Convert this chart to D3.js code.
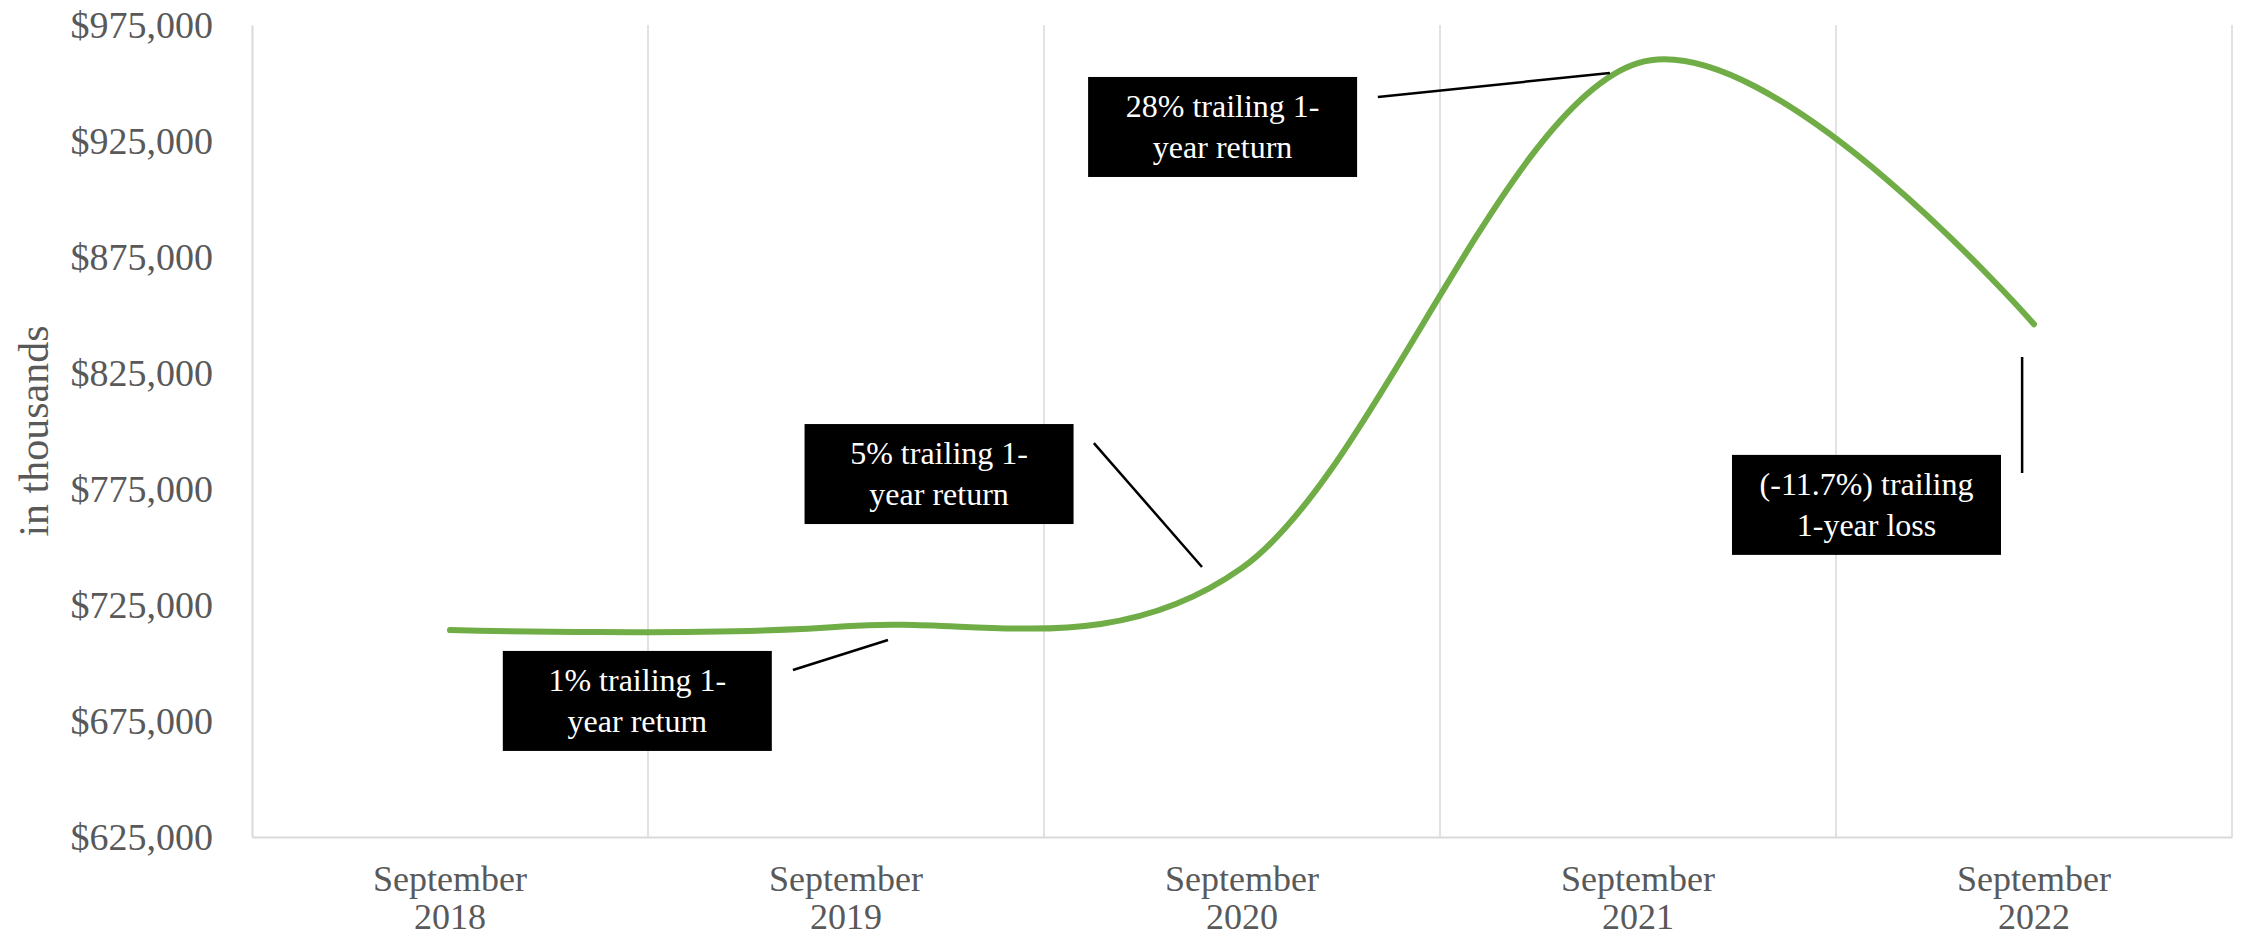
<!DOCTYPE html>
<html>
<head>
  <meta charset="utf-8" />
  <title>Trailing 1-year value</title>
  <script type="text/javascript" src="https://cdn.jsdelivr.net/npm/d3@7"></script>
  <style>
    body{
      margin: 0;
      background: white;
    }
    svg{ display: block; }
  </style>
</head>
<body>
  <script type="text/javascript">
    // - - - - - DATA - - - - - //
    //category labels (two lines each)
    var periods = [
      ["September", "2018"],
      ["September", "2019"],
      ["September", "2020"],
      ["September", "2021"],
      ["September", "2022"]
    ];
    //portfolio value, in thousands of dollars
    var values = [714200, 715800, 741000, 958600, 846000];
    //value axis ticks
    var yTicks = d3.range(625000, 975001, 50000);

    //annotation callouts: text, box anchor (category pos, value), leader ends
    var noteText = [
      ["1% trailing 1-", "year return"],
      ["5% trailing 1-", "year return"],
      ["28% trailing 1-", "year return"],
      ["(-11.7%) trailing", "1-year loss"]
    ];
    var notePos = [[0.473, 705200], [1.235, 803000], [1.951, 952600], [3.577, 789700]];
    var noteLeader = [
      [[0.866, 697000], [1.106, 709900]],
      [[1.626, 794800], [1.899, 741400]],
      [[2.343, 944000], [2.929, 954300]],
      [[3.970, 831900], [3.970, 781900]]
    ];

    // - - - - - CONSTANTS - - - - - //
    var w = 2244;
    var h = 938;
    var plotL = 252;
    var plotR = 2232;
    var plotT = 25;
    var plotB = 837;
    var gray = "#595959";
    var rule = "#d9d9d9";
    var font = "'Liberation Serif', 'Times New Roman', serif";
    var boxW = 269;
    var boxH = 100;

    // - - - - - CANVAS - - - - - //
    var svg = d3.select("body")
      .append("svg")
      .attr("width", w)
      .attr("height", h);

    svg.append("rect")
      .attr("width", w)
      .attr("height", h)
      .attr("fill", "white");

    // - - - - - SCALES - - - - - //
    var xBand = d3.scaleBand()
      .domain(d3.range(periods.length))
      .range([plotL, plotR]);
    //continuous category position (0 = centre of first band)
    var xPos = d3.scaleLinear()
      .domain([-0.5, periods.length - 0.5])
      .range([plotL, plotR]);
    var yScale = d3.scaleLinear()
      .domain([625000, 975000])
      .range([plotB, plotT]);

    // - - - - - GRIDLINES - - - - - //
    svg.append("g")
      .selectAll("line")
      .data(d3.range(1, periods.length + 1))
      .enter()
      .append("line")
      .attr("x1", function(d){ return xPos(d - 0.5); })
      .attr("x2", function(d){ return xPos(d - 0.5); })
      .attr("y1", plotT)
      .attr("y2", plotB)
      .attr("stroke", rule)
      .attr("stroke-width", 1.5);

    // - - - - - AXES - - - - - //
    var yAxis = svg.append("g")
      .attr("transform", "translate(" + plotL + ",0)")
      .call(d3.axisLeft(yScale)
        .tickValues(yTicks)
        .tickSize(0)
        .tickPadding(39)
        .tickFormat(d3.format("$,.0f")));
    yAxis.select(".domain")
      .attr("stroke", rule)
      .attr("stroke-width", 2);
    yAxis.selectAll(".tick text")
      .attr("font-family", font)
      .attr("font-size", "38px")
      .attr("fill", gray);

    var xAxis = svg.append("g")
      .attr("transform", "translate(0," + plotB + ")")
      .call(d3.axisBottom(xBand).tickSize(0).tickFormat(""));
    xAxis.select(".domain")
      .attr("stroke", rule)
      .attr("stroke-width", 2);
    xAxis.selectAll(".tick text")
      .attr("dy", null)
      .attr("y", null)
      .attr("font-family", font)
      .attr("font-size", "36px")
      .attr("fill", gray)
      .each(function(d){
        var t = d3.select(this);
        periods[d].forEach(function(s, k){
          t.append("tspan")
            .attr("x", 0)
            .attr("y", 54 + k * 38)
            .text(s);
        });
      });

    //axis title
    svg.append("text")
      .attr("transform", "translate(48," + ((plotT + plotB) / 2) + ") rotate(-90)")
      .attr("text-anchor", "middle")
      .attr("font-family", font)
      .attr("font-size", "42px")
      .attr("fill", gray)
      .text("in thousands");

    // - - - - - SERIES LINE - - - - - //
    var line = d3.line()
      .x(function(d, i){ return xPos(i); })
      .y(function(d){ return yScale(d); })
      .curve(d3.curveCardinal.tension(0));

    svg.append("path")
      .datum(values)
      .attr("d", line)
      .attr("fill", "none")
      .attr("stroke", "#70ad47")
      .attr("stroke-width", 6)
      .attr("stroke-linecap", "round")
      .attr("stroke-linejoin", "round");

    // - - - - - ANNOTATIONS - - - - - //
    svg.append("g")
      .selectAll("line")
      .data(noteLeader)
      .enter()
      .append("line")
      .attr("x1", function(d){ return xPos(d[0][0]); })
      .attr("y1", function(d){ return yScale(d[0][1]); })
      .attr("x2", function(d){ return xPos(d[1][0]); })
      .attr("y2", function(d){ return yScale(d[1][1]); })
      .attr("stroke", "black")
      .attr("stroke-width", 2.5);

    var note = svg.append("g")
      .selectAll("g")
      .data(notePos)
      .enter()
      .append("g")
      .attr("transform", function(d){
        return "translate(" + xPos(d[0]) + "," + yScale(d[1]) + ")";
      });

    note.append("rect")
      .attr("x", -boxW / 2)
      .attr("y", 0)
      .attr("width", boxW)
      .attr("height", boxH)
      .attr("fill", "black");

    note.append("text")
      .attr("text-anchor", "middle")
      .attr("font-family", font)
      .attr("font-size", "32px")
      .attr("fill", "white")
      .each(function(d, i){
        var t = d3.select(this);
        noteText[i].forEach(function(s, k){
          t.append("tspan")
            .attr("x", 0)
            .attr("y", 40 + k * 41)
            .text(s);
        });
      });
  </script>
</body>
</html>
